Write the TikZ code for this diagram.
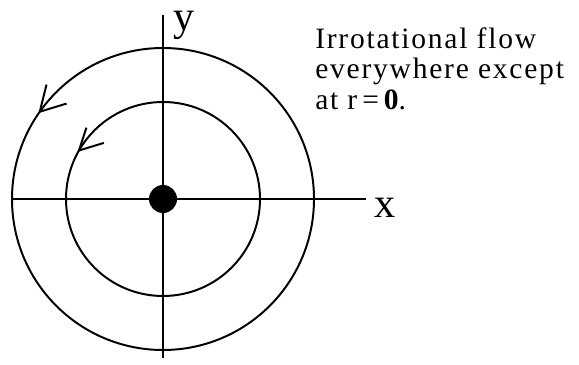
\documentclass[tikz,border=0pt]{standalone}
\usepackage{fontspec}
\setmainfont{Liberation Serif}
\newfontfamily\notefont[LetterSpace=6]{Liberation Serif}
\usetikzlibrary{calc}

\begin{document}
\begin{tikzpicture}[every node/.style={inner sep=0pt}]
  \useasboundingbox (-4.075,-4.125) rectangle (10.4,4.975);
  % streamlines
  \draw[line width=1.4pt] (0,0) circle (3.775);
  \draw[line width=1.4pt] (0,0) circle (2.425);
  % arrow barbs (counterclockwise)
  \coordinate (otip) at (144.7:3.775);
  \coordinate (itip) at (150:2.425);
  \draw[line width=1.4pt] ($(otip)+(76:0.7)$) -- (otip) -- ($(otip)+(17:0.7)$);
  \draw[line width=1.4pt] ($(itip)+(72:0.6)$) -- (itip) -- ($(itip)+(17:0.65)$);
  % axes
  \coordinate (xmin) at (-3.8,0);
  \coordinate (xmax) at (5.075,0);
  \coordinate (ymin) at (0,-3.975);
  \coordinate (ymax) at (0,4.6);
  \draw[line width=2pt] (xmin) -- (xmax);
  \draw[line width=2pt] (ymin) -- (ymax);
  \node[circle, fill=black, minimum size=0.7cm] (origin) at (0,0) {};
  \node[font=\fontsize{30}{30}\selectfont] (xlabel) at (5.55,-0.21) {x};
  \node[font=\fontsize{30}{30}\selectfont] (ylabel) at (0.525,4.35) {y};
  \node[anchor=north west, align=left, font=\notefont\fontsize{21}{22}\selectfont] (note) at (3.8,4.3)
    {Irrotational flow\\everywhere except\\at r\,=\,\textbf{0}.};
\end{tikzpicture}
\end{document}
